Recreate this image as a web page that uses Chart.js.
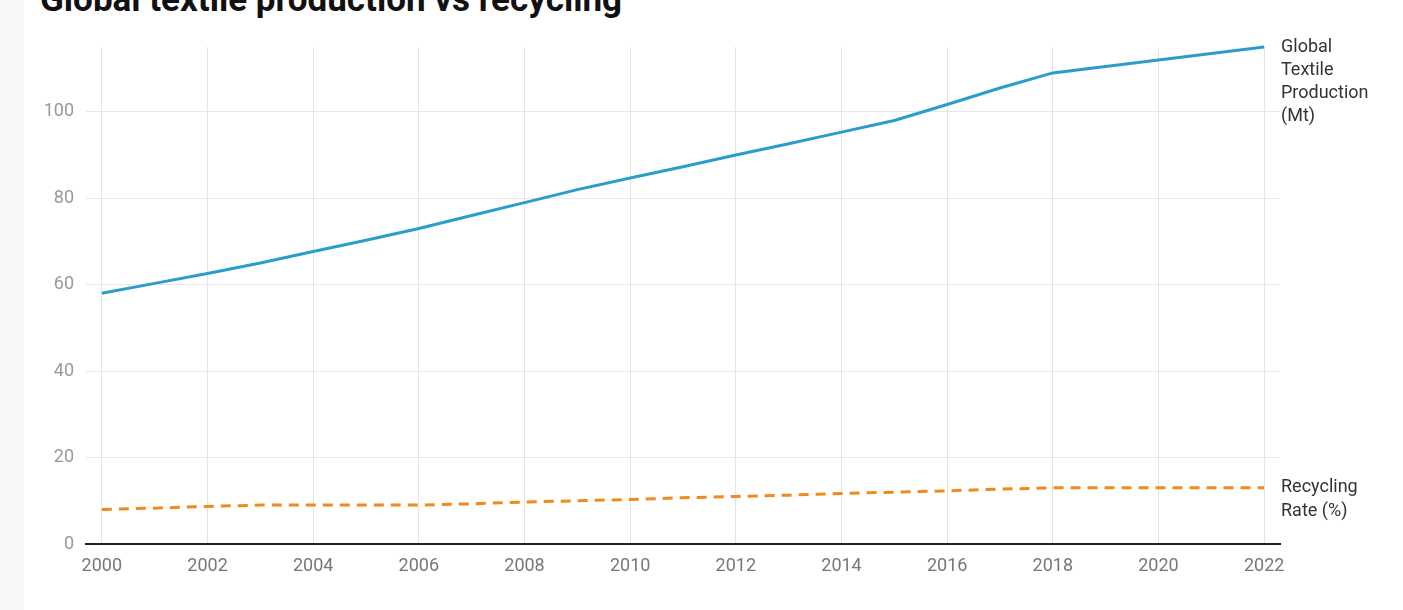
<!DOCTYPE html>
<html>
<head>
<meta charset="utf-8">
<script src="https://cdn.jsdelivr.net/npm/chart.js@4"></script>
<style>
  html, body { margin: 0; padding: 0; background: #f7f7f7; overflow: hidden; }
  #panel { position: absolute; left: 24px; top: 0; width: 1379px; height: 610px; background: #fff; }
  #title { position: absolute; left: 16px; top: -21px; font: bold 35px Roboto, sans-serif; color: #111; white-space: nowrap; }
  canvas { position: absolute; left: 0; top: 0; }
</style>
</head>
<body>
<div id="panel">
  <div id="title">Global textile production vs recycling</div>
  <canvas id="c" width="1379" height="610"></canvas>
</div>
<script>
// данные
const years = [2000,2001,2002,2003,2004,2005,2006,2007,2008,2009,2010,2011,2012,2013,2014,2015,2016,2017,2018,2019,2020,2021,2022];
const production = [58,60.3,62.6,65,67.7,70.3,73,76,79,82,84.7,87.3,90,92.6,95.3,98,101.7,105.5,109,110.5,112,113.5,115];
const recycling = [8,8.3,8.7,9,9,9,9,9.3,9.7,10,10.3,10.7,11,11.3,11.7,12,12.3,12.7,13,13,13,13,13];
const xTicks = [2000,2002,2004,2006,2008,2010,2012,2014,2016,2018,2020,2022];
const yTicks = [0,20,40,60,80,100];
const prodLabel = ['Global','Textile','Production','(Mt)'];
const recLabel = ['Recycling','Rate (%)'];

// подписи в конце линий
const endLabels = {
  id: 'endLabels',
  afterDatasetsDraw(chart) {
    const ctx = chart.ctx;
    const x = chart.chartArea.right + 1;
    ctx.save();
    ctx.font = '18px Roboto, sans-serif';
    ctx.fillStyle = '#333';
    ctx.textBaseline = 'middle';
    [[0, prodLabel], [1, recLabel]].forEach(([i, lines]) => {
      const pts = chart.getDatasetMeta(i).data;
      const y0 = pts[pts.length - 1].y;
      lines.forEach((t, k) => ctx.fillText(t, x, y0 + k * 23.3));
    });
    ctx.restore();
  }
};

const tickFont = { family: 'Roboto', size: 18 };

new Chart(document.getElementById('c'), {
  type: 'line',
  data: {
    datasets: [
      { data: years.map((y, i) => ({x: y, y: production[i]})), borderColor: '#2a9dc8', borderWidth: 3, pointRadius: 0, tension: 0, clip: false },
      { data: years.map((y, i) => ({x: y, y: recycling[i]})), borderColor: '#ee8a1e', borderWidth: 3, borderDash: [10, 7], pointRadius: 0, tension: 0, clip: false }
    ]
  },
  options: {
    responsive: false,
    animation: false,
    layout: { padding: { top: 47, right: 123, bottom: 34, left: 0 } },
    plugins: { legend: { display: false }, tooltip: { enabled: false } },
    scales: {
      x: {
        type: 'linear', min: 1999.7, max: 2022.3,
        afterBuildTicks: s => { s.ticks = xTicks.map(v => ({value: v})); },
        afterFit: s => { s.height = 32; },
        ticks: { color: '#777', font: tickFont, padding: 12, callback: v => String(v) },
        grid: { color: '#e4e4e4', drawTicks: false },
        border: { color: '#222', width: 2 }
      },
      y: {
        min: 0, max: 115,
        afterBuildTicks: s => { s.ticks = yTicks.map(v => ({value: v})); },
        afterFit: s => { s.width = 62; },
        ticks: { color: '#999', font: tickFont, padding: 12 },
        grid: { color: '#e8e8e8', drawTicks: false },
        border: { display: false }
      }
    }
  },
  plugins: [endLabels]
});
</script>
</body>
</html>
